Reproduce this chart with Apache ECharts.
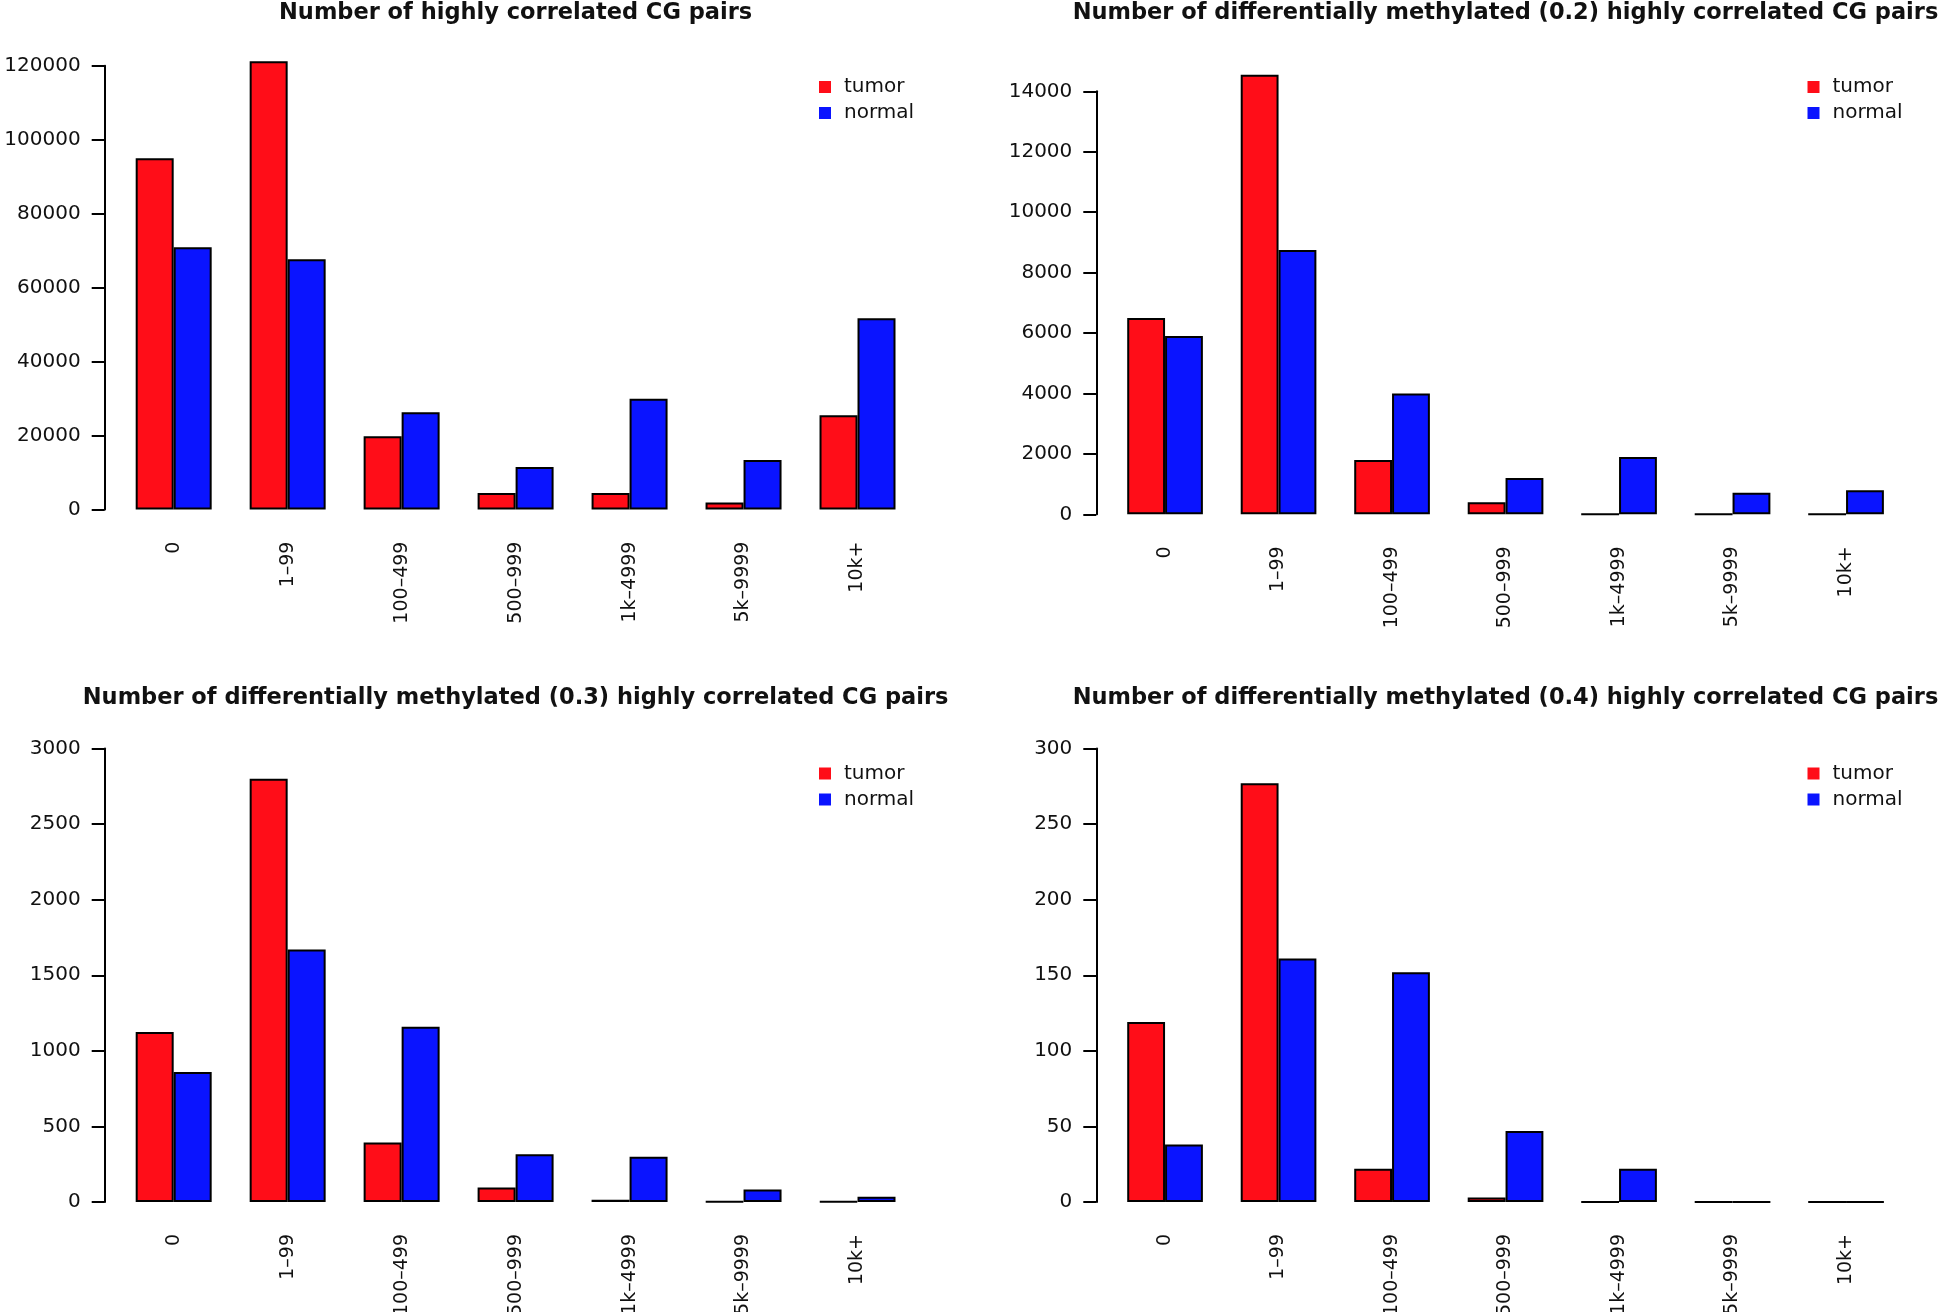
<!DOCTYPE html>
<html>
<head>
<meta charset="utf-8">
<script src="https://cdn.jsdelivr.net/npm/echarts@6/dist/echarts.min.js"></script>
<style>
html,body{margin:0;padding:0;background:#fff;}
#chart{width:1944px;height:1312px;}
</style>
</head>
<body>
<div id="chart"></div>
<script>
var categories = ['0', '1–99', '100–499', '500–999', '1k–4999', '5k–9999', '10k+'];
var legendNames = ['tumor', 'normal'];

var titles = [
  'Number of highly correlated CG pairs',
  'Number of differentially methylated (0.2) highly correlated CG pairs',
  'Number of differentially methylated (0.3) highly correlated CG pairs',
  'Number of differentially methylated (0.4) highly correlated CG pairs'
];

var tumorAll  = [95000, 121200, 19800, 4500, 4500, 1900, 25500];
var normalAll = [70900, 67700, 26300, 11500, 30000, 13400, 51700];

var tumor02  = [6500, 14550, 1800, 400, 0, 0, 0];
var normal02 = [5900, 8750, 4000, 1200, 1900, 710, 800];

var tumor03  = [1125, 2800, 393, 96, 15, 2, 3];
var normal03 = [860, 1670, 1160, 316, 300, 82, 35];

var tumor04  = [119, 277, 22, 3, 0, 0, 0];
var normal04 = [38, 161, 152, 47, 22, 0, 0];

var yMax = [120000, 14000, 3000, 300];
var yInterval = [20000, 2000, 500, 50];

var tumorSets = [tumorAll, tumor02, tumor03, tumor04];
var normalSets = [normalAll, normal02, normal03, normal04];

var FONT = 'DejaVu Sans';
var RED = '#ff0d18';
var BLUE = '#0a14ff';

// layout per panel
var panels = [
  {left: 116.7, width: 797.8, top: 65.7, height: 443.9, titleX: 515.6, titleY: 2, legLeft: 819, legTop: 77},
  {left: 1108.3, width: 794.5, top: 91.3, height: 423.0, titleX: 1505.5, titleY: 2, legLeft: 1807.5, legTop: 77},
  {left: 116.7, width: 797.8, top: 748.5, height: 453.5, titleX: 515.6, titleY: 687, legLeft: 819, legTop: 763.5},
  {left: 1108.3, width: 794.5, top: 748.5, height: 453.5, titleX: 1505.5, titleY: 687, legLeft: 1807.5, legTop: 763.5}
];

var option = {
  backgroundColor: '#ffffff',
  animation: false,
  title: [], grid: [], xAxis: [], yAxis: [], series: [], legend: []
};

panels.forEach(function (p, i) {
  option.title.push({
    text: titles[i],
    left: p.titleX, top: p.titleY, textAlign: 'center', padding: 0,
    textStyle: {fontFamily: FONT, fontWeight: 'bold', fontSize: 22.5, color: '#111'}
  });
  option.grid.push({left: p.left, top: p.top, width: p.width, height: p.height,
    containLabel: false, outerBoundsMode: 'none'});
  option.xAxis.push({
    type: 'category', gridIndex: i, data: categories,
    axisLine: {show: false}, axisTick: {show: false}, splitLine: {show: false},
    axisLabel: {rotate: 90, interval: 0, margin: 32, fontFamily: FONT, fontSize: 19, color: '#111'}
  });
  option.yAxis.push({
    type: 'value', gridIndex: i, min: 0, max: yMax[i], interval: yInterval[i], offset: 12,
    splitLine: {show: false},
    axisLine: {show: true, lineStyle: {color: '#000', width: 2}},
    axisTick: {show: true, length: 13, lineStyle: {color: '#000', width: 2}},
    axisLabel: {margin: 24, fontFamily: FONT, fontSize: 20, color: '#111',
      formatter: function (v) { return String(v); }}
  });
  option.series.push({
    name: legendNames[0], type: 'bar', xAxisIndex: i, yAxisIndex: i,
    data: tumorSets[i], barGap: '0%', barCategoryGap: '33.33%', clip: false,
    itemStyle: {color: RED, borderColor: '#000', borderWidth: 2}
  });
  option.series.push({
    name: legendNames[1], type: 'bar', xAxisIndex: i, yAxisIndex: i,
    data: normalSets[i], barGap: '0%', barCategoryGap: '33.33%', clip: false,
    itemStyle: {color: BLUE, borderColor: '#000', borderWidth: 2}
  });
  option.legend.push({
    data: legendNames.map(function (n, k) {
      return {name: n, icon: 'rect', itemStyle: {color: k === 0 ? RED : BLUE, borderWidth: 0}};
    }),
    orient: 'vertical', left: p.legLeft, top: p.legTop, padding: 0,
    itemWidth: 12, itemHeight: 12, itemGap: 6, selectedMode: false,
    textStyle: {fontFamily: FONT, fontSize: 20, lineHeight: 20, color: '#111', padding: [0, 0, 0, 8]}
  });
});

var chart = echarts.init(document.getElementById('chart'), null, {renderer: 'canvas', width: 1944, height: 1312});
chart.setOption(option);
</script>
</body>
</html>
